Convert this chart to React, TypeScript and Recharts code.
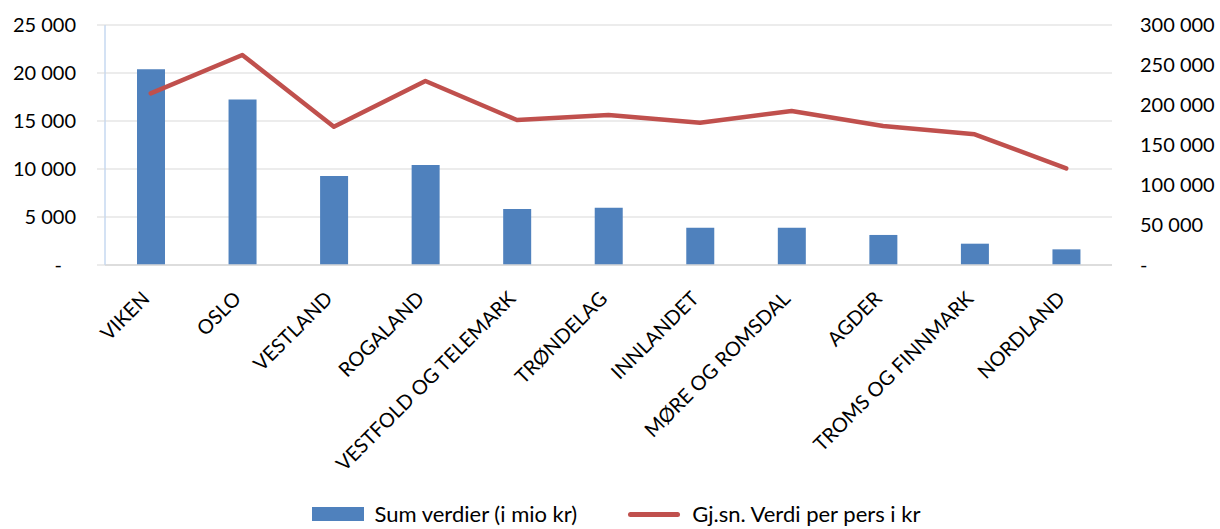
import React from "react";
import {
  ComposedChart,
  Bar,
  Line,
  XAxis,
  YAxis,
  CartesianGrid,
  Legend,
} from "recharts";

const FONT = "Lato, 'Open Sans', sans-serif";
const BAR_COLOR = "#4F81BD";
const LINE_COLOR = "#C0504D";

const regions = [
  "VIKEN",
  "OSLO",
  "VESTLAND",
  "ROGALAND",
  "VESTFOLD OG TELEMARK",
  "TRØNDELAG",
  "INNLANDET",
  "MØRE OG ROMSDAL",
  "AGDER",
  "TROMS OG FINNMARK",
  "NORDLAND",
];
const sumValues = [20400, 17250, 9270, 10420, 5830, 5970, 3890, 3890, 3130, 2220, 1630];
const avgPerPerson = [214600, 262500, 172900, 230000, 181200, 187500, 177900, 192500, 173700, 163300, 120800];

const leftTicks = [0, 5000, 10000, 15000, 20000, 25000];
const rightTicks = [0, 50000, 100000, 150000, 200000, 250000, 300000];

const data = regions.map((name, i) => ({
  name,
  sum: sumValues[i],
  avg: avgPerPerson[i],
}));

// "25 000" style, zero shown as a dash
function fmt(v: number) {
  if (v === 0) return "-";
  return String(v).replace(/\B(?=(\d{3})+(?!\d))/g, " ");
}

function CategoryTick(props: any) {
  const { x, y, payload } = props;
  return (
    <g transform={`translate(${x},${y + 27}) rotate(-45)`}>
      <text x={0} y={0} textAnchor="end" fill="#000" fontSize={20} fontFamily={FONT}>
        {payload.value}
      </text>
    </g>
  );
}

// left axis: numbers right-aligned, the zero dash sits a bit further in (accounting format)
function LeftTick(props: any) {
  const { x, y, payload } = props;
  const v = payload.value as number;
  return (
    <text
      x={v === 0 ? x - 14 : x}
      y={y}
      dy="0.355em"
      textAnchor="end"
      fill="#000"
      fontSize={20}
      fontFamily={FONT}
    >
      {fmt(v)}
    </text>
  );
}

function LegendBox() {
  return (
    <div
      style={{
        display: "flex",
        justifyContent: "center",
        alignItems: "center",
        height: 30,
        paddingLeft: 12,
        fontFamily: FONT,
        fontSize: 22,
        lineHeight: "26px",
        color: "#000",
        whiteSpace: "nowrap",
      }}
    >
      <span style={{ display: "inline-block", width: 52, height: 14, background: BAR_COLOR, marginRight: 11 }} />
      <span style={{ marginRight: 51 }}>Sum verdier (i mio kr)</span>
      <span style={{ display: "inline-block", width: 52, height: 5, borderRadius: 3, background: LINE_COLOR, marginRight: 12 }} />
      <span>Gj.sn. Verdi per pers i kr</span>
    </div>
  );
}

export default function App() {
  return (
    <div style={{ position: "absolute", left: 0, top: 0, width: 1220, height: 529, background: "#fff", overflow: "hidden" }}>
      <ComposedChart
        width={1220}
        height={529}
        data={data}
        margin={{ top: 25, right: 0, bottom: 0, left: 0 }}
      >
        <CartesianGrid horizontal vertical={false} stroke="#D9D9D9" yAxisId="left" />
        <XAxis
          dataKey="name"
          height={234}
          interval={0}
          tick={<CategoryTick />}
          tickLine={false}
          axisLine={{ stroke: "#D9D9D9", strokeWidth: 1.5 }}
        />
        <YAxis
          yAxisId="left"
          width={105}
          domain={[0, 25000]}
          ticks={leftTicks}
          tickSize={8}
          tickMargin={21}
          tickLine={{ stroke: "#D9D9D9" }}
          axisLine={{ stroke: "#C6D9F0", strokeWidth: 1.5 }}
          tick={<LeftTick />}
        />
        <YAxis
          yAxisId="right"
          orientation="right"
          width={108}
          domain={[0, 300000]}
          ticks={rightTicks}
          tickFormatter={fmt}
          tickSize={8}
          tickMargin={20}
          tickLine={false}
          axisLine={false}
          tick={{ fill: "#000", fontSize: 20, fontFamily: FONT, textAnchor: "start" }}
        />
        <Legend verticalAlign="bottom" height={30} content={<LegendBox />} />
        <Bar
          yAxisId="left"
          dataKey="sum"
          name="Sum verdier (i mio kr)"
          fill={BAR_COLOR}
          barSize={28}
          isAnimationActive={false}
        />
        <Line
          yAxisId="right"
          dataKey="avg"
          name="Gj.sn. Verdi per pers i kr"
          type="linear"
          stroke={LINE_COLOR}
          strokeWidth={4.5}
          strokeLinecap="round"
          strokeLinejoin="round"
          dot={false}
          activeDot={false}
          isAnimationActive={false}
        />
      </ComposedChart>
    </div>
  );
}
